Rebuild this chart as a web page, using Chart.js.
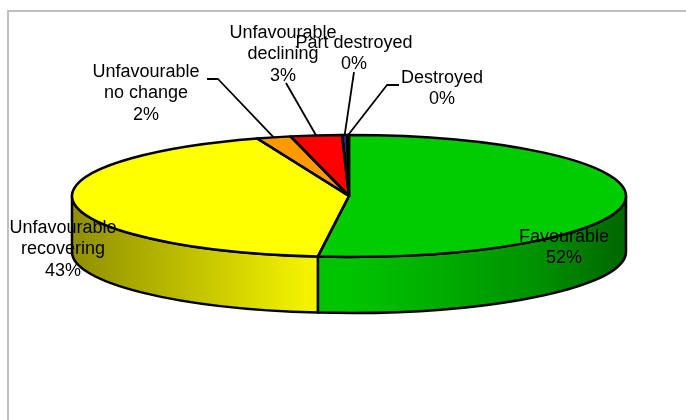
<!DOCTYPE html>
<html>
<head>
<meta charset="utf-8">
<script src="https://cdn.jsdelivr.net/npm/chart.js@4.4.0/dist/chart.umd.min.js"></script>
<style>
body { margin: 0; background: #fff; }
#wrap { width: 686px; height: 420px; position: relative; }
</style>
</head>
<body>
<div id="wrap"><canvas id="canvas"></canvas></div>
<script>
// slices, clockwise from 12 o'clock
const categories = [['Favourable'], ['Unfavourable', 'recovering'], ['Unfavourable', 'no change'], ['Unfavourable', 'declining'], ['Part destroyed'], ['Destroyed']]
const shares = [52, 43, 2, 3, 0.3, 0.1]
const sliceColors = ['#00CC00', '#FFFF00', '#FF9900', '#FF0000', '#1F2F80', '#000080']

const tilt = 61 / 277   // ry / rx of the top face
const depth = 56
// where each label sits, and the bend points of its leader line
const labelSpots = [
  {x: 564, y: 237},
  {x: 63, y: 228},
  {x: 146, y: 72, lead: [[207, 79], [218, 79]]},
  {x: 283, y: 33, lead: [[286, 83]]},
  {x: 354, y: 43, lead: [[354, 72]]},
  {x: 442, y: 78, lead: [[399, 85], [387, 85]]}
]
const sideLight = [[0, 0.56], [0.2, 0.74], [0.42, 0.95], [0.5, 0.96], [0.65, 0.86], [0.85, 0.7], [1, 0.5]]

function shade(hex, f) {
  const n = parseInt(hex.slice(1), 16)
  const r = Math.round(((n >> 16) & 255) * f)
  const g = Math.round(((n >> 8) & 255) * f)
  const b = Math.round((n & 255) * f)
  return `rgb(${r},${g},${b})`
}

const pie3d = {
  id: 'pie3d',
  beforeDraw(chart) {
    const ctx = chart.ctx
    ctx.save()
    ctx.fillStyle = '#c0c0c0'
    ctx.fillRect(7, 10, chart.width - 7, 2)
    ctx.fillRect(7, 10, 2, chart.height - 10)
    ctx.restore()
  },
  beforeDatasetsDraw(chart) {
    const ctx = chart.ctx
    const arcs = chart.getDatasetMeta(0).data
    const cx = arcs[0].x, cy = arcs[0].y, rx = arcs[0].outerRadius, ry = rx * tilt
    // side wall: only the front half (0..PI) shows
    ctx.save()
    ctx.lineWidth = 2.5
    ctx.strokeStyle = '#000'
    ctx.lineJoin = 'round'
    arcs.forEach((arc, i) => {
      const a0 = Math.max(arc.startAngle, 0)
      const a1 = Math.min(arc.endAngle, Math.PI)
      if (a1 <= a0) return
      const grad = ctx.createLinearGradient(cx - rx, 0, cx + rx, 0)
      sideLight.forEach(s => grad.addColorStop(s[0], shade(sliceColors[i], s[1])))
      ctx.beginPath()
      ctx.ellipse(cx, cy, rx, ry, 0, a0, a1)
      ctx.lineTo(cx + rx * Math.cos(a1), cy + depth + ry * Math.sin(a1))
      ctx.ellipse(cx, cy + depth, rx, ry, 0, a1, a0, true)
      ctx.closePath()
      ctx.fillStyle = grad
      ctx.fill()
      ctx.stroke()
    })
    ctx.restore()
    // squash the top face
    ctx.save()
    ctx.translate(0, cy)
    ctx.scale(1, tilt)
    ctx.translate(0, -cy)
  },
  afterDatasetsDraw(chart) {
    const ctx = chart.ctx
    ctx.restore()
    const arcs = chart.getDatasetMeta(0).data
    const cx = arcs[0].x, cy = arcs[0].y, rx = arcs[0].outerRadius, ry = rx * tilt
    ctx.save()
    ctx.strokeStyle = '#000'
    ctx.lineWidth = 2.5
    ctx.lineJoin = 'round'
    arcs.forEach(arc => {
      ctx.beginPath()
      ctx.moveTo(cx, cy)
      ctx.ellipse(cx, cy, rx, ry, 0, arc.startAngle, arc.endAngle)
      ctx.closePath()
      ctx.stroke()
    })

    const total = shares.reduce((a, b) => a + b, 0)
    ctx.font = '18px "Liberation Sans", Arial, sans-serif'
    ctx.textAlign = 'center'
    ctx.textBaseline = 'middle'
    ctx.fillStyle = '#000'
    ctx.lineWidth = 1.8
    arcs.forEach((arc, i) => {
      const spot = labelSpots[i]
      if (spot.lead) {
        const mid = (arc.startAngle + arc.endAngle) / 2
        const pts = spot.lead.concat([[cx + rx * Math.cos(mid), cy + ry * Math.sin(mid)]])
        ctx.beginPath()
        pts.forEach((p, k) => k ? ctx.lineTo(p[0], p[1]) : ctx.moveTo(p[0], p[1]))
        ctx.stroke()
      }
    })
    arcs.forEach((arc, i) => {
      const spot = labelSpots[i]
      const lines = categories[i].concat(Math.round(shares[i] / total * 100) + '%')
      lines.forEach((t, k) => ctx.fillText(t, spot.x, spot.y + k * 21.5))
    })
    ctx.restore()
  }
}

new Chart(document.getElementById('canvas'), {
  type: 'pie',
  data: {
    labels: categories,
    datasets: [{
      data: shares,
      backgroundColor: sliceColors,
      borderWidth: 0,
      radius: 277,
      clip: false
    }]
  },
  options: {
    responsive: true,
    maintainAspectRatio: false,
    animation: false,
    events: [],
    layout: { padding: { left: 12, right: 0, top: 0, bottom: 28 } },
    plugins: {
      legend: { display: false },
      tooltip: { enabled: false }
    }
  },
  plugins: [pie3d]
})
</script>
</body>
</html>
